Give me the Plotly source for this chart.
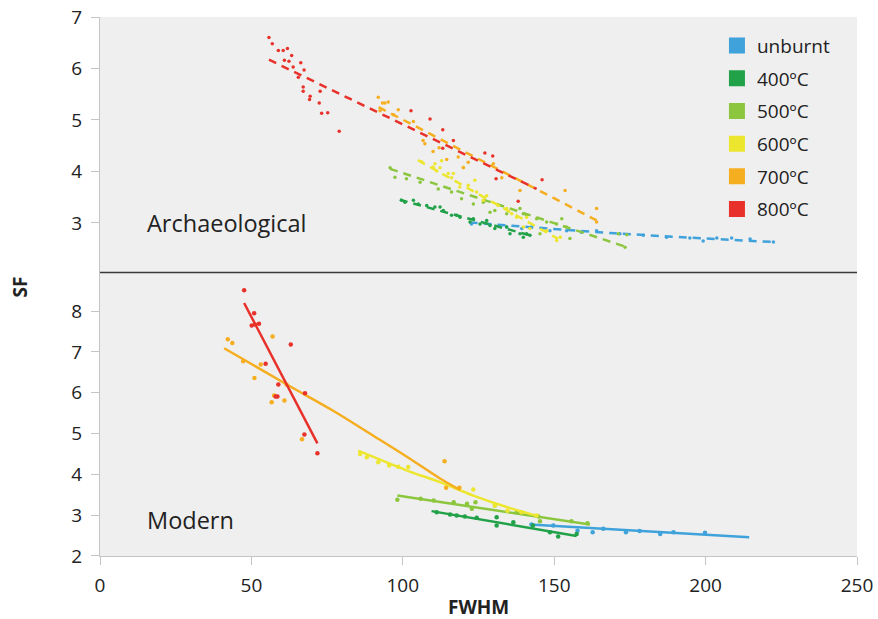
import plotly.graph_objects as go

# ---------------- data ----------------
categories = ["unburnt", "400ºC", "500ºC", "600ºC", "700ºC", "800ºC"]
colors = ["#3fa2db", "#21a148", "#8cc63e", "#ede62f", "#f5ae1f", "#e8312a"]

# Archaeological (top panel) points
arch_unburnt_x = [122.7, 128.8, 134.3, 139.3, 142.5, 148.6, 154.1, 159.0, 164.0, 171.7, 179.4, 187.1, 194.8, 199.2, 203.7, 208.6, 214.7, 222.4]
arch_unburnt_y = [2.98, 2.97, 2.92, 2.89, 2.92, 2.85, 2.85, 2.82, 2.85, 2.79, 2.76, 2.72, 2.71, 2.65, 2.71, 2.71, 2.69, 2.63]
arch_400_x = [99.6, 100.7, 103.5, 105.1, 107.9, 110.6, 112.3, 113.4, 116.1, 117.8, 118.9, 122.2, 123.3, 125.5, 127.7, 128.8, 130.4, 134.3, 135.4, 138.7, 139.8, 140.9, 142.0]
arch_400_y = [3.44, 3.40, 3.44, 3.37, 3.34, 3.31, 3.31, 3.24, 3.15, 3.15, 3.11, 3.02, 3.08, 2.98, 3.05, 2.95, 2.89, 2.92, 2.79, 2.79, 2.72, 2.79, 2.76]
arch_500_x = [95.8, 97.4, 101.2, 105.7, 111.7, 116.1, 119.4, 123.3, 126.6, 128.8, 130.4, 134.3, 138.7, 139.8, 140.9, 144.2, 145.3, 147.5, 150.8, 152.5, 154.0, 155.2, 171.2, 174.0, 173.4]
arch_500_y = [4.07, 3.89, 3.86, 3.79, 3.66, 3.60, 3.47, 3.37, 3.40, 3.21, 3.24, 3.18, 3.28, 3.18, 3.15, 3.08, 2.79, 3.02, 2.98, 3.08, 2.92, 2.70, 2.79, 2.77, 2.53]
arch_600_x = [106.2, 110.0, 110.6, 112.3, 111.2, 112.8, 115.0, 116.1, 116.7, 118.8, 120.0, 121.6, 123.8, 124.4, 126.6, 127.7, 131.5, 134.3, 136.0, 137.6, 140.9, 139.8, 142.0, 147.5, 150.8, 152.0]
arch_600_y = [4.19, 4.08, 4.15, 4.07, 4.01, 4.21, 3.96, 3.88, 3.96, 3.70, 4.08, 3.73, 3.83, 3.60, 3.44, 3.53, 3.34, 3.28, 3.18, 3.11, 3.11, 2.92, 2.89, 2.85, 2.66, 2.72]
arch_700_x = [91.9, 93.3, 94.1, 95.2, 92.5, 98.5, 96.9, 103.5, 106.7, 110.0, 112.0, 107.3, 114.5, 118.3, 121.6, 120.0, 129.9, 132.7, 138.7, 153.6, 164.0, 164.0]
arch_700_y = [5.44, 5.33, 5.33, 5.35, 5.18, 5.20, 5.10, 4.97, 4.60, 4.39, 4.46, 4.54, 4.23, 4.28, 4.18, 4.07, 4.15, 3.88, 3.63, 3.63, 3.28, 3.02]
arch_800_x = [55.8, 56.9, 58.9, 60.5, 61.9, 63.3, 60.9, 62.4, 66.3, 63.8, 67.4, 65.5, 67.1, 67.1, 72.7, 69.4, 69.2, 72.4, 73.2, 75.2, 79.0, 102.7, 109.0, 113.2, 113.2, 116.7, 127.1, 129.7, 130.8, 146.0, 138.1]
arch_800_y = [6.60, 6.48, 6.35, 6.35, 6.39, 6.25, 6.16, 6.14, 6.11, 6.03, 5.97, 5.83, 5.64, 5.56, 5.56, 5.46, 5.40, 5.33, 5.13, 5.14, 4.78, 5.18, 5.02, 4.81, 4.45, 4.60, 4.36, 4.30, 3.86, 3.84, 3.42]

# Archaeological trend lines (dashed)
arch_fit_unburnt_x = [122.0, 170.0, 222.4]
arch_fit_unburnt_y = [3.01, 2.80, 2.63]
arch_fit_400_x = [99.0, 142.0]
arch_fit_400_y = [3.45, 2.76]
arch_fit_500_x = [95.8, 174.0]
arch_fit_500_y = [4.05, 2.53]
arch_fit_600_x = [105.0, 151.3]
arch_fit_600_y = [4.22, 2.69]
arch_fit_700_x = [92.0, 164.0]
arch_fit_700_y = [5.25, 3.05]
arch_fit_800_x = [55.8, 144.2]
arch_fit_800_y = [6.17, 3.66]

# Modern (bottom panel) points
mod_unburnt_x = [142.5, 149.7, 157.7, 162.7, 166.2, 173.7, 178.2, 185.0, 189.4, 199.8]
mod_unburnt_y = [2.77, 2.75, 2.62, 2.58, 2.67, 2.58, 2.61, 2.54, 2.58, 2.57]
mod_400_x = [111.2, 115.6, 117.8, 120.5, 124.4, 131.0, 131.0, 136.5, 143.0, 148.6, 151.3, 157.4]
mod_400_y = [3.07, 3.02, 2.99, 2.97, 2.94, 2.95, 2.75, 2.83, 2.75, 2.58, 2.48, 2.54]
mod_500_x = [98.2, 105.9, 110.2, 116.8, 121.2, 122.8, 124.0, 130.4, 137.6, 144.8, 145.3, 155.7, 161.0]
mod_500_y = [3.38, 3.40, 3.36, 3.32, 3.28, 3.16, 3.32, 3.24, 3.07, 2.97, 2.85, 2.85, 2.80]
mod_600_x = [85.9, 88.1, 91.9, 95.5, 98.5, 101.8, 123.3, 130.4, 134.6, 139.2, 144.2]
mod_600_y = [4.50, 4.42, 4.30, 4.22, 4.19, 4.18, 3.63, 3.24, 3.11, 3.07, 2.99]
mod_700_x = [42.2, 43.7, 47.3, 57.0, 53.1, 51.0, 61.6, 57.5, 56.7, 60.9, 66.7, 113.8, 114.3, 118.7]
mod_700_y = [7.31, 7.22, 6.77, 7.38, 6.69, 6.36, 6.20, 5.93, 5.77, 5.81, 4.86, 4.32, 3.67, 3.67]
mod_800_x = [47.6, 50.9, 50.1, 51.2, 52.5, 63.0, 54.7, 58.9, 58.6, 58.0, 67.7, 67.5, 71.8]
mod_800_y = [8.51, 7.95, 7.65, 7.67, 7.69, 7.18, 6.71, 6.20, 5.91, 5.91, 5.99, 4.98, 4.52]

# Modern trend lines (solid)
mod_fit_unburnt_x = [142.0, 214.4]
mod_fit_unburnt_y = [2.77, 2.46]
mod_fit_400_x = [109.5, 157.4]
mod_fit_400_y = [3.10, 2.49]
mod_fit_500_x = [98.2, 161.8]
mod_fit_500_y = [3.48, 2.77]
mod_fit_600_x = [85.3, 101.2, 112.3, 123.3, 134.3, 144.5]
mod_fit_600_y = [4.58, 4.10, 3.81, 3.48, 3.20, 2.98]
mod_fit_700_x = [41.0, 62.7, 77.0, 90.0, 101.2, 112.3, 118.9]
mod_fit_700_y = [7.09, 6.16, 5.56, 4.96, 4.44, 3.90, 3.62]
mod_fit_800_x = [47.6, 71.8]
mod_fit_800_y = [8.20, 4.76]

x_ticks = [0, 50, 100, 150, 200, 250]
arch_y_ticks = [3, 4, 5, 6, 7]
mod_y_ticks = [2, 3, 4, 5, 6, 7, 8]

# ---------------- figure ----------------
FONT = "Open Sans"
fig = go.Figure()

arch_pts = [(arch_unburnt_x, arch_unburnt_y), (arch_400_x, arch_400_y), (arch_500_x, arch_500_y),
            (arch_600_x, arch_600_y), (arch_700_x, arch_700_y), (arch_800_x, arch_800_y)]
arch_fits = [(arch_fit_unburnt_x, arch_fit_unburnt_y), (arch_fit_400_x, arch_fit_400_y), (arch_fit_500_x, arch_fit_500_y),
             (arch_fit_600_x, arch_fit_600_y), (arch_fit_700_x, arch_fit_700_y), (arch_fit_800_x, arch_fit_800_y)]
mod_pts = [(mod_unburnt_x, mod_unburnt_y), (mod_400_x, mod_400_y), (mod_500_x, mod_500_y),
           (mod_600_x, mod_600_y), (mod_700_x, mod_700_y), (mod_800_x, mod_800_y)]
mod_fits = [(mod_fit_unburnt_x, mod_fit_unburnt_y), (mod_fit_400_x, mod_fit_400_y), (mod_fit_500_x, mod_fit_500_y),
            (mod_fit_600_x, mod_fit_600_y), (mod_fit_700_x, mod_fit_700_y), (mod_fit_800_x, mod_fit_800_y)]

for i, col in enumerate(colors):
    fx, fy = arch_fits[i]
    fig.add_trace(go.Scatter(x=fx, y=fy, mode="lines", xaxis="x", yaxis="y2", showlegend=False,
                             line=dict(color=col, width=2.5, dash="8px,6px", shape="spline"), hoverinfo="skip"))
    px, py = arch_pts[i]
    fig.add_trace(go.Scatter(x=px, y=py, mode="markers", xaxis="x", yaxis="y2", showlegend=False,
                             marker=dict(color=col, size=3.5)))
    fx, fy = mod_fits[i]
    fig.add_trace(go.Scatter(x=fx, y=fy, mode="lines", xaxis="x", yaxis="y", showlegend=False,
                             line=dict(color=col, width=2.5, shape="spline"), hoverinfo="skip"))
    px, py = mod_pts[i]
    fig.add_trace(go.Scatter(x=px, y=py, mode="markers", xaxis="x", yaxis="y", showlegend=False,
                             marker=dict(color=col, size=4.5)))

# legend entries
for name, col in zip(categories, colors):
    fig.add_trace(go.Scatter(x=[None], y=[None], mode="markers", name=name, legendgroup=name,
                             marker=dict(symbol="square", size=16, color=col), showlegend=True))

axis_common = dict(showgrid=False, zeroline=False, showline=True, linecolor="#c4c4c4", linewidth=1,
                   ticks="outside", ticklen=8, tickcolor="#c4c4c4", automargin=False,
                   tickfont=dict(family=FONT, size=19, color="#222222"))

split = 0.5262
fig.update_layout(
    width=878, height=619, autosize=False,
    margin=dict(l=100, r=21, t=16.5, b=63.3),
    paper_bgcolor="white", plot_bgcolor="#efefef",
    font=dict(family=FONT, color="#222222"),
    xaxis=dict(domain=[0, 1], range=[0, 250], tickvals=x_ticks, anchor="y", ticklabelstandoff=4, **axis_common),
    yaxis=dict(domain=[0, split], range=[2, 8.95], tickvals=mod_y_ticks, anchor="x", ticklabelstandoff=5, **axis_common),
    yaxis2=dict(domain=[split, 1], range=[2.04, 7.0], tickvals=arch_y_ticks, anchor="x", ticklabelstandoff=5, **axis_common),
    legend=dict(x=0.815, y=0.982, xanchor="left", yanchor="top", bgcolor="rgba(0,0,0,0)",
                font=dict(family=FONT, size=19, color="#222222"), tracegroupgap=5,
                itemclick=False),
    shapes=[dict(type="line", xref="paper", yref="paper", x0=0, x1=1, y0=split, y1=split,
                 line=dict(color="#3a3a3a", width=1.5))],
    annotations=[
        dict(text="Archaeological", xref="x", yref="y2", x=14.9, y=3.0, xanchor="left", yanchor="middle",
             showarrow=False, font=dict(family=FONT, size=23.5, color="#222222")),
        dict(text="Modern", xref="x", yref="y", x=14.9, y=2.87, xanchor="left", yanchor="middle",
             showarrow=False, font=dict(family=FONT, size=23.5, color="#222222")),
        dict(text="<b>SF</b>", xref="paper", yref="paper", x=-0.1057, y=0.5, xanchor="center", yanchor="middle",
             textangle=-90, showarrow=False, font=dict(family=FONT, size=19, color="#222222")),
        dict(text="<b>FWHM</b>", xref="paper", yref="paper", x=0.5, y=-0.095, xanchor="center", yanchor="middle",
             showarrow=False, font=dict(family=FONT, size=19, color="#222222")),
    ],
    showlegend=True,
)

# remove the browser's default 8px body margin so the figure fills the window exactly
fig.write_html("out.html", config={"displayModeBar": False},
               post_script="document.body.style.margin='0px';document.body.style.overflow='hidden';")
